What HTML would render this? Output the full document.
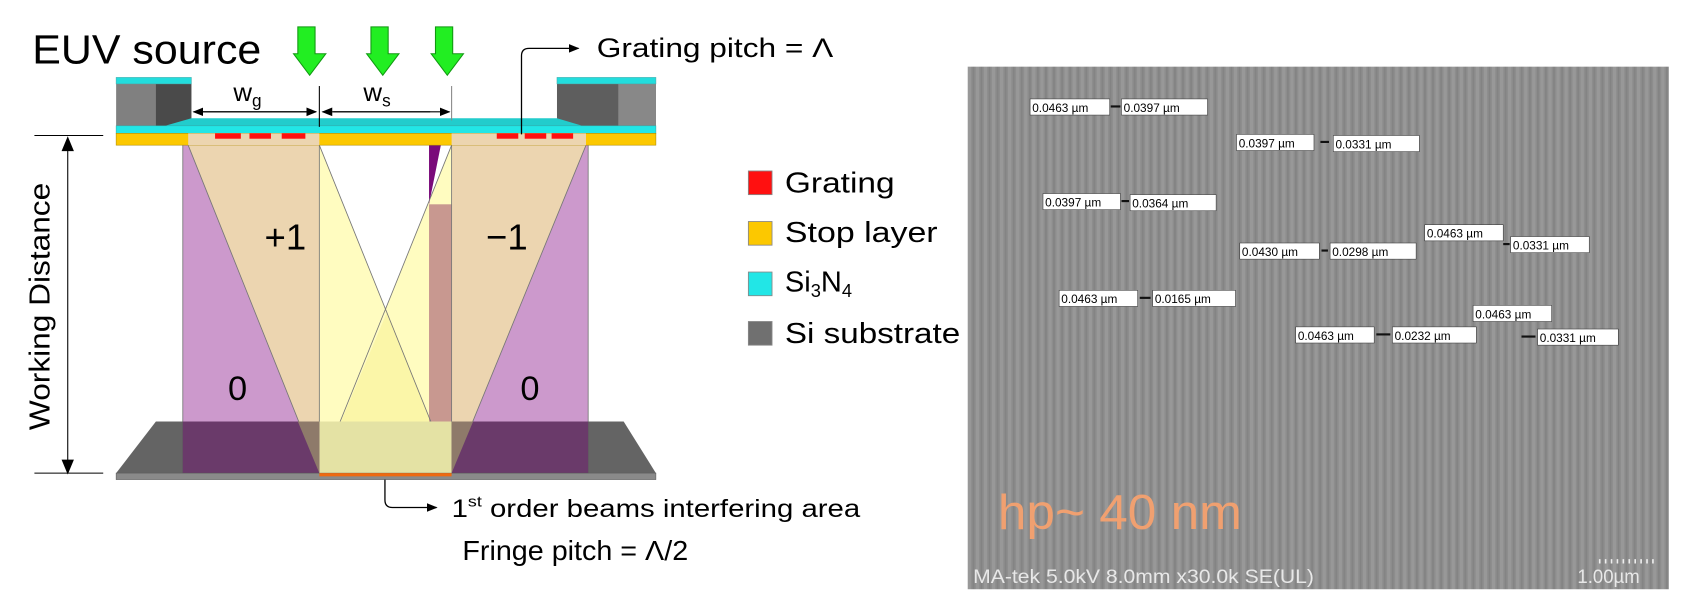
<!DOCTYPE html>
<html><head><meta charset="utf-8"><style>
html,body{margin:0;padding:0;background:#fff;}
svg{display:block;}
text{font-family:"Liberation Sans",sans-serif;}
.m{font-size:11px;fill:#000;}
</style></head><body>
<svg width="1686" height="600" viewBox="0 0 1568 558" xmlns="http://www.w3.org/2000/svg">
<defs>
<pattern id="st" width="7.5" height="10" patternUnits="userSpaceOnUse">
<rect width="7.5" height="10" fill="#8d8d8d"/>
<rect x="0" width="3" height="10" fill="#989898"/>
<rect x="4.5" width="1.5" height="10" fill="#838383"/>
</pattern>
<marker id="ah" markerWidth="10" markerHeight="10" refX="9" refY="5" orient="auto" markerUnits="userSpaceOnUse"><path d="M0,1 L10,5 L0,9z" fill="#000"/></marker>
</defs>
<text x="30" y="59" font-size="38" textLength="213" lengthAdjust="spacingAndGlyphs">EUV source</text>
<g fill="#22ee22" stroke="#119911" stroke-width="1">
<path d="M277,25 h16 v25 h10 l-15,20 l-15,-20 h4z"/>
<path d="M345,25 h16 v25 h10 l-15,20 l-15,-20 h4z"/>
<path d="M405,25 h16 v25 h10 l-15,20 l-15,-20 h4z"/>
</g>
<rect x="170" y="135" width="127" height="305" fill="#cc99cc"/>
<rect x="420" y="135" width="127" height="305" fill="#cc99cc"/>
<polygon points="297,135 420,440 297,440" fill="#fffcc0"/>
<polygon points="420,135 297,440 420,440" fill="#fffcc0"/>
<polygon points="360,290 420,440 297,440" fill="#fbf6a8"/>
<polygon points="175,135 297,135 297,440" fill="#ecd5b0"/>
<polygon points="545,135 420,135 420,440" fill="#ecd5b0"/>
<rect x="399" y="190" width="21" height="250" fill="#c89890"/>
<polygon points="399,135 410,135 399,190" fill="#7a0a7a"/>
<g stroke="#777" stroke-width="0.8" fill="none">
<line x1="175" y1="135" x2="297" y2="440"/><line x1="297" y1="135" x2="420" y2="440"/>
<line x1="420" y1="135" x2="297" y2="440"/><line x1="545" y1="135" x2="420" y2="440"/>
<line x1="297" y1="135" x2="297" y2="440"/><line x1="420" y1="135" x2="420" y2="440"/>
<line x1="170" y1="135" x2="170" y2="440"/><line x1="547" y1="135" x2="547" y2="440"/>
</g>
<polygon points="145,392 580,392 610,440 108,440" fill="#5c5c5c" opacity="0.95"/>
<polygon points="170,392 297,392 297,440 170,440" fill="#6a3a6a"/>
<polygon points="420,392 547,392 547,440 420,440" fill="#6a3a6a"/>
<polygon points="297,392 420,392 420,440 297,440" fill="#e4e2a4"/>
<polygon points="277,392 297,392 297,440" fill="#8e7a6a"/>
<polygon points="420,392 440,392 420,440" fill="#8e7a6a"/>
<rect x="108" y="440" width="502" height="6" fill="#8a8a8a" stroke="#555" stroke-width="0.5"/>
<rect x="297" y="440" width="123" height="3" fill="#ee6a10"/>
<rect x="108" y="78" width="70" height="42" fill="#808080"/>
<rect x="145" y="78" width="33" height="42" fill="#4a4a4a"/>
<rect x="108" y="72" width="70" height="6" fill="#22dddd" stroke="#4aa" stroke-width="0.5"/>
<rect x="518" y="78" width="92" height="42" fill="#5e5e5e"/>
<rect x="575" y="78" width="35" height="42" fill="#888"/>
<rect x="518" y="72" width="92" height="6" fill="#22dddd" stroke="#4aa" stroke-width="0.5"/>
<polygon points="178,110 518,110 545,118 150,118" fill="#22cccc"/>
<rect x="108" y="117" width="502" height="7" fill="#22e6e6" stroke="#3aa" stroke-width="0.5"/>
<rect x="108" y="124" width="502" height="11" fill="#fcc800" stroke="#aa8800" stroke-width="0.5"/>
<rect x="175" y="124" width="122" height="11" fill="#ecd5b0"/>
<rect x="420" y="124" width="125" height="11" fill="#ecd5b0"/>
<g fill="#ff1010">
<rect x="200" y="124" width="24" height="5"/><rect x="232" y="124" width="20" height="5"/><rect x="262" y="124" width="22" height="5"/>
<rect x="462" y="124" width="20" height="5"/><rect x="488" y="124" width="20" height="5"/><rect x="513" y="124" width="20" height="5"/>
</g>
<g stroke="#000" stroke-width="1">
<line x1="297" y1="80" x2="297" y2="118"/><line x1="420" y1="80" x2="420" y2="112" stroke="#888"/>
<line x1="188" y1="104" x2="294" y2="104" marker-end="url(#ah)"/>
<line x1="285" y1="104" x2="180" y2="104" marker-end="url(#ah)"/>
<line x1="310" y1="104" x2="418" y2="104" marker-end="url(#ah)"/>
<line x1="400" y1="104" x2="300" y2="104" marker-end="url(#ah)"/>
</g>
<text x="217" y="94" font-size="24">w<tspan font-size="16" dy="5">g</tspan></text>
<text x="338" y="94" font-size="24">w<tspan font-size="16" dy="5">s</tspan></text>
<path d="M485,125 V52 Q485,45 492,45 H538" stroke="#000" stroke-width="1.2" fill="none" marker-end="url(#ah)"/>
<text x="555" y="53" font-size="25" textLength="220" lengthAdjust="spacingAndGlyphs">Grating pitch = Λ</text>
<g stroke="#000" stroke-width="1">
<line x1="32" y1="126" x2="96" y2="126"/><line x1="32" y1="440" x2="96" y2="440"/>
<line x1="63" y1="130" x2="63" y2="437"/>
<path d="M58,140 L63,128 L68,140z" fill="#000"/><path d="M58,428 L63,440 L68,428z" fill="#000"/>
</g>
<text transform="translate(46,285) rotate(-90)" font-size="27" text-anchor="middle" textLength="230" lengthAdjust="spacingAndGlyphs">Working Distance</text>
<text x="246" y="232" font-size="34" font-family="Liberation Serif">+1</text>
<text x="452" y="232" font-size="34" font-family="Liberation Serif">−1</text>
<text x="212" y="372" font-size="32" font-family="Liberation Serif">0</text>
<text x="484" y="372" font-size="32" font-family="Liberation Serif">0</text>
<path d="M358,446 V465 Q358,472 365,472 H406" stroke="#000" stroke-width="1.2" fill="none" marker-end="url(#ah)"/>
<text x="420" y="481" font-size="23" textLength="380" lengthAdjust="spacingAndGlyphs">1<tspan font-size="14" dy="-10">st</tspan><tspan dy="10"> order beams interfering area</tspan></text>
<text x="430" y="521" font-size="26" textLength="210" lengthAdjust="spacingAndGlyphs">Fringe pitch = Λ/2</text>
<rect x="696" y="159" width="22" height="22" fill="#ff1010" stroke="#888" stroke-width="0.8"/>
<rect x="696" y="206" width="22" height="22" fill="#fcc800" stroke="#888" stroke-width="0.8"/>
<rect x="696" y="253" width="22" height="22" fill="#22e6e6" stroke="#888" stroke-width="0.8"/>
<rect x="696" y="299" width="22" height="22" fill="#707070" stroke="#888" stroke-width="0.8"/>
<g font-size="27">
<text x="730" y="179" textLength="102" lengthAdjust="spacingAndGlyphs">Grating</text>
<text x="730" y="225" textLength="142" lengthAdjust="spacingAndGlyphs">Stop layer</text>
<text x="730" y="271">Si<tspan font-size="17" dy="5">3</tspan><tspan dy="-5">N</tspan><tspan font-size="17" dy="5">4</tspan></text>
<text x="730" y="319" textLength="163" lengthAdjust="spacingAndGlyphs">Si substrate</text>
</g>
<rect x="900" y="62" width="652" height="486" fill="url(#st)"/>
<g fill="#fff" stroke="#333" stroke-width="0.5">
<rect x="958" y="92" width="74" height="15"/><rect x="1043" y="92" width="80" height="15"/>
<rect x="1150" y="125" width="72" height="15"/><rect x="1240" y="126" width="80" height="15"/>
<rect x="970" y="180" width="72" height="15"/><rect x="1051" y="181" width="80" height="15"/>
<rect x="1153" y="226" width="74" height="15"/><rect x="1237" y="226" width="80" height="15"/>
<rect x="1325" y="209" width="73" height="15"/><rect x="1405" y="220" width="73" height="15"/>
<rect x="985" y="270" width="73" height="15"/><rect x="1072" y="270" width="77" height="15"/>
<rect x="1370" y="284" width="73" height="15"/>
<rect x="1205" y="304" width="73" height="15"/><rect x="1295" y="304" width="78" height="15"/><rect x="1430" y="306" width="75" height="15"/>
</g>
<g>
<text class="m" x="960" y="104">0.0463 µm</text><text class="m" x="1045" y="104">0.0397 µm</text>
<text class="m" x="1152" y="137">0.0397 µm</text><text class="m" x="1242" y="138">0.0331 µm</text>
<text class="m" x="972" y="192">0.0397 µm</text><text class="m" x="1053" y="193">0.0364 µm</text>
<text class="m" x="1155" y="238">0.0430 µm</text><text class="m" x="1239" y="238">0.0298 µm</text>
<text class="m" x="1327" y="221">0.0463 µm</text><text class="m" x="1407" y="232">0.0331 µm</text>
<text class="m" x="987" y="282">0.0463 µm</text><text class="m" x="1074" y="282">0.0165 µm</text>
<text class="m" x="1372" y="296">0.0463 µm</text>
<text class="m" x="1207" y="316">0.0463 µm</text><text class="m" x="1297" y="316">0.0232 µm</text><text class="m" x="1432" y="318">0.0331 µm</text>
</g>
<g stroke="#111" stroke-width="2">
<line x1="1033" y1="99" x2="1042" y2="99"/><line x1="1228" y1="132" x2="1236" y2="132"/>
<line x1="1043" y1="187" x2="1050" y2="187"/><line x1="1229" y1="233" x2="1235" y2="233"/>
<line x1="1398" y1="227" x2="1404" y2="227"/><line x1="1060" y1="277" x2="1070" y2="277"/>
<line x1="1280" y1="311" x2="1293" y2="311"/><line x1="1415" y1="313" x2="1428" y2="313"/>
</g>
<text x="928" y="492" font-size="46" fill="#f0a070" textLength="227" lengthAdjust="spacingAndGlyphs">hp~ 40 nm</text>
<text x="905" y="542" font-size="18" fill="#e8e8e8" textLength="317" lengthAdjust="spacingAndGlyphs">MA-tek 5.0kV 8.0mm x30.0k SE(UL)</text>
<text x="1467" y="542" font-size="18" fill="#e8e8e8" textLength="58" lengthAdjust="spacingAndGlyphs">1.00µm</text>
<line x1="1487" y1="522" x2="1540" y2="522" stroke="#eee" stroke-width="4" stroke-dasharray="1.5,4"/>
</svg>
</body></html>
